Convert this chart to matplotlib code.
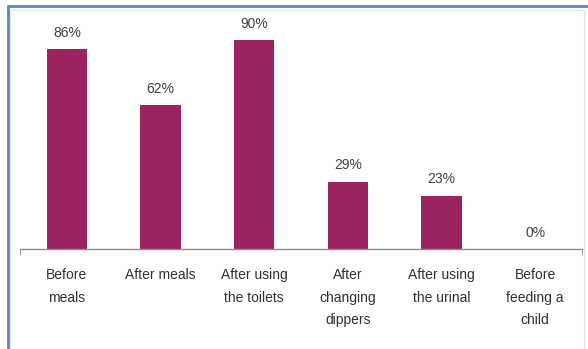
import matplotlib
matplotlib.use("Agg")
import matplotlib.pyplot as plt
from matplotlib.patches import Rectangle

categories = ["Before\nmeals", "After meals", "After using\nthe toilets",
              "After\nchanging\ndippers", "After using\nthe urinal",
              "Before\nfeeding a\nchild"]
values = [86, 62, 90, 29, 23, 0]
value_labels = ["86%", "62%", "90%", "29%", "23%", "0%"]

W, H = 588, 349
fig = plt.figure(figsize=(W / 100, H / 100), dpi=100)
plt.rcParams['font.family'] = ['Liberation Sans', 'DejaVu Sans']

# outer frame (blue) and chart-area border (light gray)
fig.patches.append(Rectangle((10 / W, -0.1), 574 / W, 1.1 - 10 / H,
                             transform=fig.transFigure, fill=False,
                             edgecolor="#e3e3e3", linewidth=0.8))
fig.patches.append(Rectangle((7.5 / W, -0.1), 1.2, 1.1 - 5.5 / H,
                             transform=fig.transFigure, fill=False,
                             edgecolor="#5b87c9", linewidth=2.0))

ax = fig.add_axes([20 / W, 100 / H, 562 / W, 232 / H])
x = range(len(values))
ax.bar(x, values, width=0.43, color="#9b2460", zorder=2)
for xi, v, lab in zip(x, values, value_labels):
    ax.text(xi, v + 4.0, lab, ha="center", va="bottom", fontsize=10,
            color="#404040")

ax.set_xlim(-0.5, 5.5)
ax.set_ylim(0, 100)
for s in ["top", "right", "left"]:
    ax.spines[s].set_visible(False)
ax.spines["bottom"].set_color("#8c8c8c")
ax.spines["bottom"].set_linewidth(1.0)
ax.set_yticks([])
ax.set_xticks(list(x))
ax.set_xticklabels(categories, fontsize=10, color="#303030", linespacing=1.75)
ax.tick_params(axis="x", which="major", length=0, pad=14)
ax.set_xticks([-0.5, 5.5], minor=True)
ax.tick_params(axis="x", which="minor", length=4, color="#8c8c8c",
               direction="out")
ax.patch.set_alpha(0)

fig.savefig("out.png", dpi=100)
